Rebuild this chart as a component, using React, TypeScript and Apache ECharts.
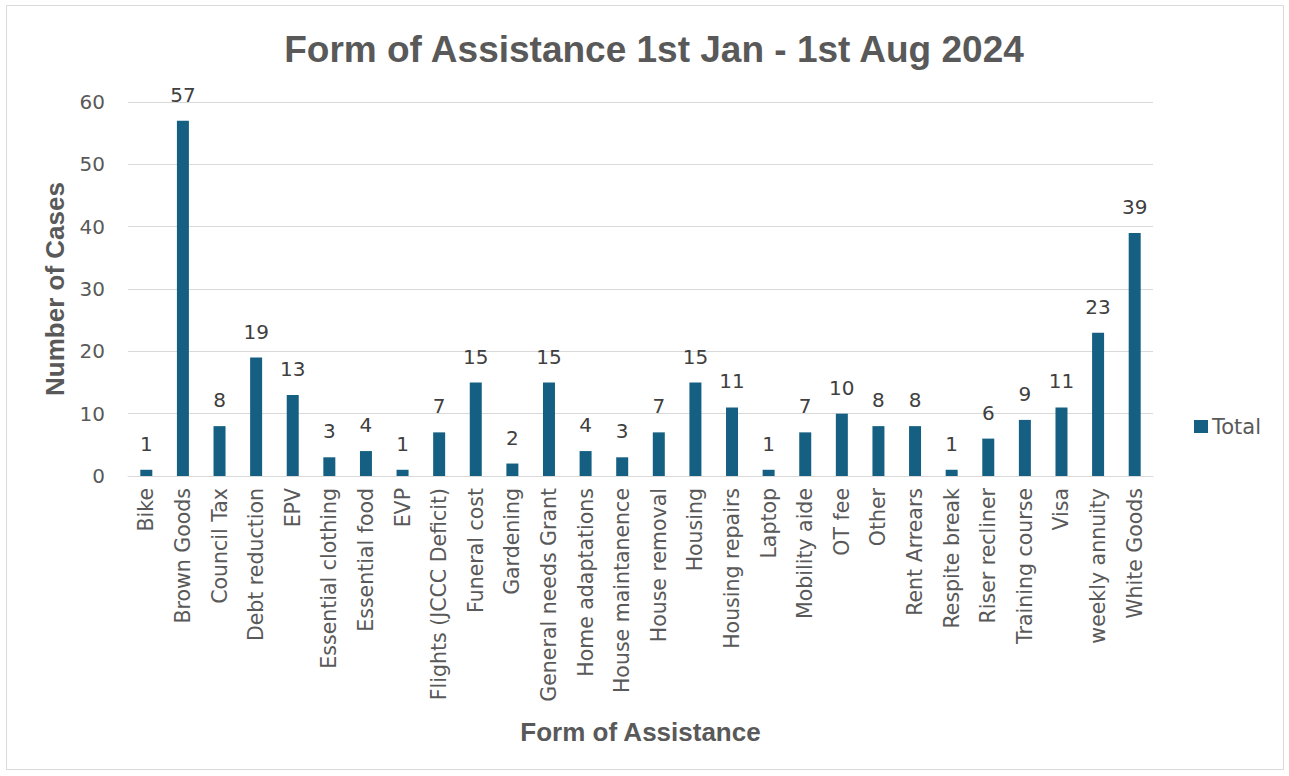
import React, { useEffect, useRef } from "react";
import * as echarts from "echarts";

const categories = [
  "Bike", "Brown Goods", "Council Tax", "Debt reduction", "EPV", "Essential clothing",
  "Essential food", "EVP", "Flights (JCCC Deficit)", "Funeral cost", "Gardening",
  "General needs Grant", "Home adaptations", "House maintanence", "House removal",
  "Housing", "Housing repairs", "Laptop", "Mobility aide", "OT fee", "Other",
  "Rent Arrears", "Respite break", "Riser recliner", "Training course", "Visa",
  "weekly annuity", "White Goods",
];
const totals = [1, 57, 8, 19, 13, 3, 4, 1, 7, 15, 2, 15, 4, 3, 7, 15, 11, 1, 7, 10, 8, 8, 1, 6, 9, 11, 23, 39];
const yTicks = { min: 0, max: 60, interval: 10 };

const BOLD_FONT = "'Liberation Sans', Arial, sans-serif";
const FONT = "'DejaVu Sans', 'Liberation Sans', sans-serif";

export default function App() {
  const ref = useRef<HTMLDivElement>(null);
  useEffect(() => {
    if (!ref.current) return;
    const chart = echarts.init(ref.current, undefined, { renderer: "svg" });
    chart.setOption({
      animation: false,
      backgroundColor: "#ffffff",
      textStyle: { fontFamily: FONT },
      title: {
        text: "Form of Assistance 1st Jan - 1st Aug 2024",
        left: 649,
        top: 26,
        textAlign: "center",
        textStyle: { fontFamily: BOLD_FONT, fontSize: 37, fontWeight: "bold", color: "#595959" },
      },
      graphic: [
        {
          type: "rect",
          shape: { x: 6.5, y: 5.5, width: 1277, height: 764 },
          style: { fill: "none", stroke: "#d9d9d9", lineWidth: 1 },
          silent: true,
        },
      ],
      legend: {
        data: ["Total"],
        left: 1189,
        top: 411,
        itemWidth: 14,
        itemHeight: 13,
        itemGap: 4,
        icon: "rect",
        textStyle: { fontFamily: FONT, fontSize: 21, color: "#595959", padding: [0, 0, 0, -1] },
      },
      grid: { left: 128, right: 136, top: 102, bottom: 300, containLabel: false },
      xAxis: {
        type: "category",
        data: categories,
        name: "Form of Assistance",
        nameLocation: "middle",
        nameGap: 243,
        nameTextStyle: { fontFamily: BOLD_FONT, fontSize: 26, fontWeight: "bold", color: "#595959" },
        axisLine: { lineStyle: { color: "#d9d9d9", width: 1 } },
        axisTick: { show: false },
        axisLabel: {
          rotate: 90,
          interval: 0,
          fontFamily: FONT,
          fontSize: 20.5,
          color: "#595959",
          margin: 12,
        },
      },
      yAxis: {
        type: "value",
        min: yTicks.min,
        max: yTicks.max,
        interval: yTicks.interval,
        name: "Number of Cases",
        nameLocation: "middle",
        nameGap: 60,
        nameRotate: 90,
        nameTextStyle: { fontFamily: BOLD_FONT, fontSize: 26, fontWeight: "bold", color: "#595959" },
        axisLine: { show: false },
        axisTick: { show: false },
        splitLine: { lineStyle: { color: "#d9d9d9", width: 1 } },
        axisLabel: { fontFamily: FONT, fontSize: 20, color: "#595959", margin: 23 },
      },
      series: [
        {
          name: "Total",
          type: "bar",
          data: totals,
          barWidth: 12,
          itemStyle: { color: "#156082" },
          label: {
            show: true,
            position: "top",
            distance: 16,
            fontFamily: FONT,
            fontSize: 20,
            color: "#404040",
          },
        },
      ],
    });
    return () => chart.dispose();
  }, []);
  return (
    <div
      ref={ref}
      style={{ position: "fixed", left: 0, top: 0, width: 1289, height: 776 }}
    />
  );
}
